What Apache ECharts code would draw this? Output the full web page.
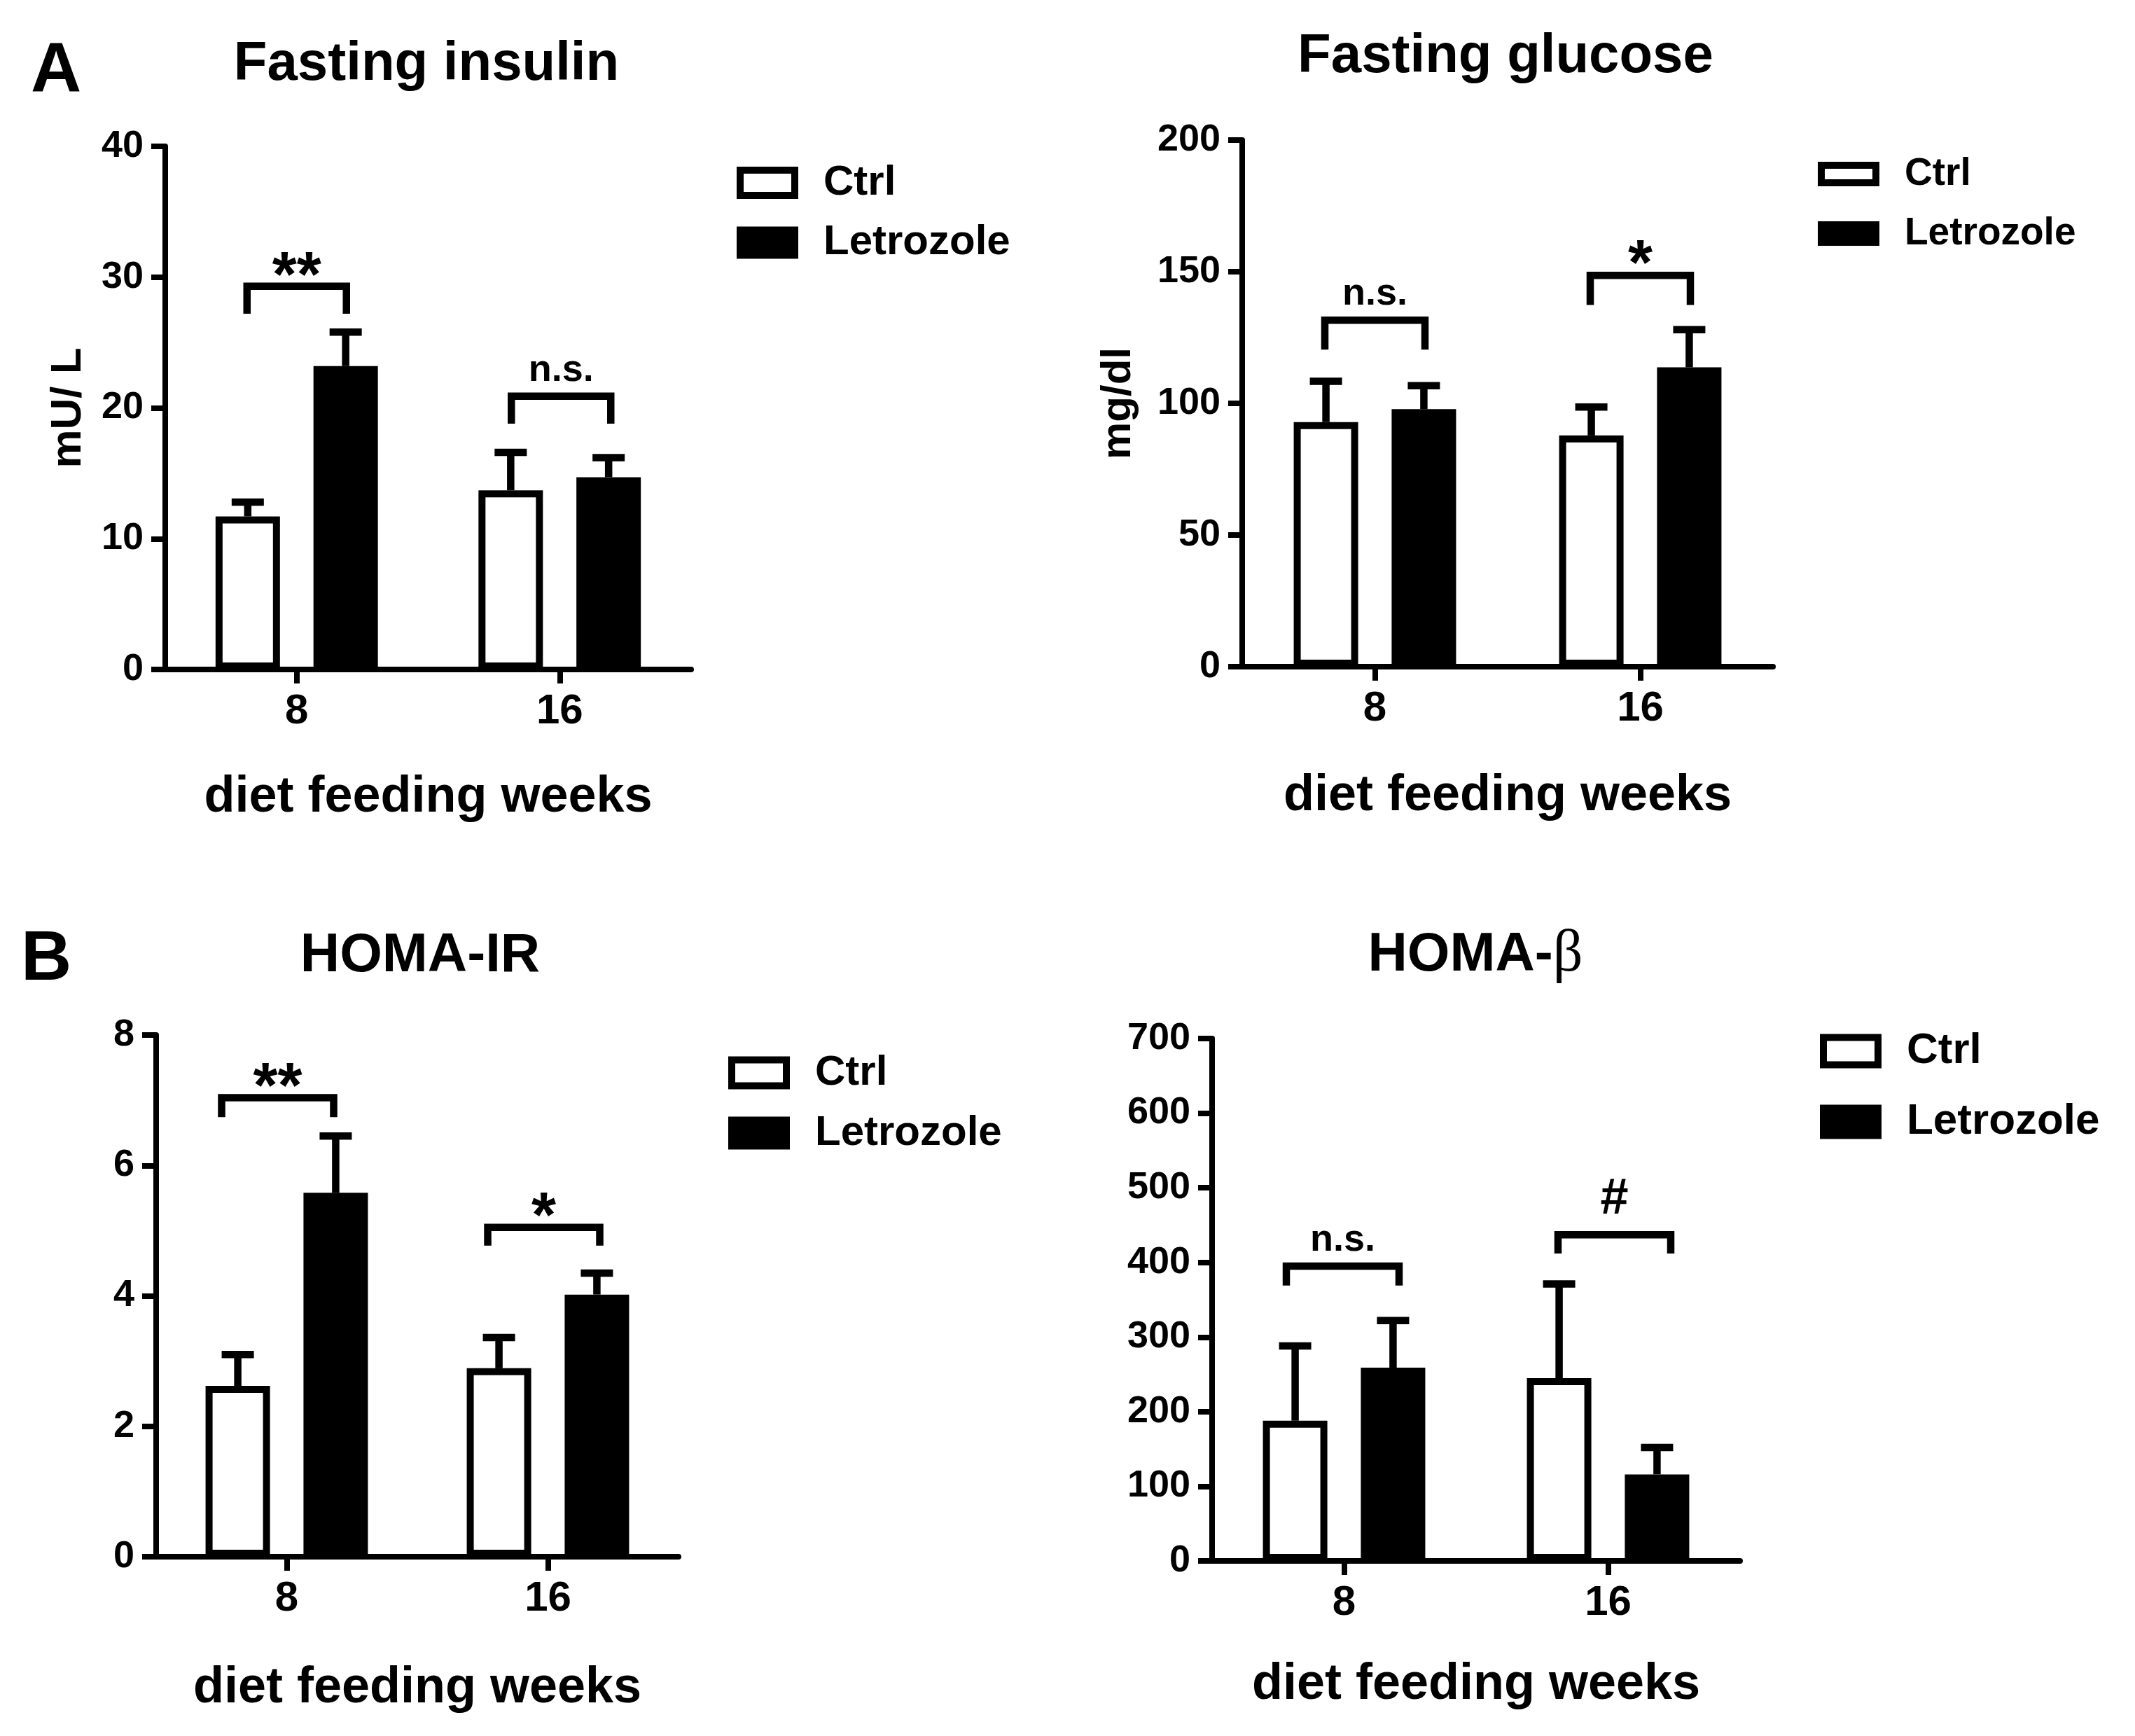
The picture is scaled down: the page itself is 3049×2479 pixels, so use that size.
<!DOCTYPE html>
<html>
<head>
<meta charset="utf-8">
<script src="https://cdn.jsdelivr.net/npm/echarts@6/dist/echarts.min.js"></script>
<style>
html,body{margin:0;padding:0;background:#ffffff;}
#chart{width:3049px;height:2479px;}
</style>
</head>
<body>
<div id="chart"></div>
<script>
// ---------------- data ----------------
const categories = ['8', '16'];
const groupNames = ['Ctrl', 'Letrozole'];
const xAxisTitle = 'diet feeding weeks';

// Fasting insulin (mU/ L)
const insulinCtrl = [11.7, 13.7];
const insulinCtrlErr = [1.1, 2.9];
const insulinLet = [23.2, 14.7];
const insulinLetErr = [2.6, 1.5];
const insulinBracketTop = [29.3, 20.9];
const insulinBracketLeg = [27.2, 18.8];
const insulinSig = ['**', 'n.s.'];
const insulinTicks = [0, 40, 10];

// Fasting glucose (mg/dl)
const glucoseCtrl = [92.9, 87.8];
const glucoseCtrlErr = [15.5, 10.8];
const glucoseLet = [97.8, 113.7];
const glucoseLetErr = [8.9, 14.3];
const glucoseBracketTop = [131.6, 148.6];
const glucoseBracketLeg = [120.4, 137.4];
const glucoseSig = ['n.s.', '*'];
const glucoseTicks = [0, 200, 50];

// HOMA-IR
const homaIrCtrl = [2.62, 2.89];
const homaIrCtrlErr = [0.48, 0.47];
const homaIrLet = [5.58, 4.02];
const homaIrLetErr = [0.87, 0.33];
const homaIrBracketTop = [7.04, 5.05];
const homaIrBracketLeg = [6.74, 4.77];
const homaIrSig = ['**', '*'];
const homaIrTicks = [0, 8, 2];

// HOMA-beta
const homaBCtrl = [188, 245];
const homaBCtrlErr = [100, 126];
const homaBLet = [259, 116];
const homaBLetErr = [63, 36];
const homaBBracketTop = [395, 437];
const homaBBracketLeg = [369, 412];
const homaBSig = ['n.s.', '#'];
const homaBTicks = [0, 700, 100];

// ---------------- style / layout ----------------
const FONT = '"Liberation Sans", Arial, Helvetica, sans-serif';
const BAR_W = 92;
const BAR_GAP = 0.52;
const HALF = BAR_W * (1 + BAR_GAP) / 2;
const BAR_LW = 10;
const LW = 10.5;
const AXIS_W = 8;
const CAP_W = 46;
const SIG_FONT = {'**': 90, '*': 90, 'n.s.': 54, '#': 72};
const SIG_DY = {'**': -11, '*': -12, 'n.s.': -37, '#': -50};

const panels = [
  {ctrl: insulinCtrl, ctrlErr: insulinCtrlErr, let: insulinLet, letErr: insulinLetErr,
   bTop: insulinBracketTop, bLeg: insulinBracketLeg, sig: insulinSig, ticks: insulinTicks, yName: 'mU/ L'},
  {ctrl: glucoseCtrl, ctrlErr: glucoseCtrlErr, let: glucoseLet, letErr: glucoseLetErr,
   bTop: glucoseBracketTop, bLeg: glucoseBracketLeg, sig: glucoseSig, ticks: glucoseTicks, yName: 'mg/dl'},
  {ctrl: homaIrCtrl, ctrlErr: homaIrCtrlErr, let: homaIrLet, letErr: homaIrLetErr,
   bTop: homaIrBracketTop, bLeg: homaIrBracketLeg, sig: homaIrSig, ticks: homaIrTicks, yName: ''},
  {ctrl: homaBCtrl, ctrlErr: homaBCtrlErr, let: homaBLet, letErr: homaBLetErr,
   bTop: homaBBracketTop, bLeg: homaBBracketLeg, sig: homaBSig, ticks: homaBTicks, yName: ''}
];

const layout = [
  {grid: {left: 236, top: 209, width: 751, height: 747},
   legend: {left: 1052, top: 231, itemHeight: 36, font: 60, gap: 25.5},
   xNameGap: 147, yNameGap: 107, yNameFont: 62, bracketHalf: 71, bracketShift: [0, 2]},
  {grid: {left: 1774, top: 200, width: 758, height: 752},
   legend: {left: 2596, top: 221, itemHeight: 25, font: 55, gap: 30},
   xNameGap: 149, yNameGap: 147, yNameFont: 60, bracketHalf: 71.5, bracketShift: [0, 0]},
  {grid: {left: 223, top: 1478, width: 746, height: 745},
   legend: {left: 1040, top: 1502, itemHeight: 37, font: 60, gap: 26},
   xNameGap: 152, yNameGap: 100, yNameFont: 60, bracketHalf: 80, bracketShift: [-13, -6]},
  {grid: {left: 1731, top: 1483, width: 754, height: 746},
   legend: {left: 2599, top: 1470, itemHeight: 39, font: 62, gap: 39},
   xNameGap: 141, yNameGap: 100, yNameFont: 60, bracketHalf: 80.5, bracketShift: [-2, 9]}
];

// ---------------- build option ----------------
function errRender(sign) {
  return function (params, api) {
    const cat = api.value(0), mean = api.value(1), err = api.value(2);
    const b = api.coord([cat, mean]);
    const t = api.coord([cat, mean + err]);
    const x = b[0] + sign * HALF;
    return {
      type: 'group',
      children: [
        {type: 'line', shape: {x1: x, y1: b[1], x2: x, y2: t[1]}, style: {stroke: '#000', lineWidth: LW}},
        {type: 'line', shape: {x1: x - CAP_W / 2, y1: t[1], x2: x + CAP_W / 2, y2: t[1]}, style: {stroke: '#000', lineWidth: LW}}
      ]
    };
  };
}

function bracketRender(p, lay) {
  return function (params, api) {
    const i = params.dataIndex;
    const cat = api.value(0), top = api.value(1), leg = api.value(2);
    const c = api.coord([cat, top]);
    const l = api.coord([cat, leg]);
    const xc = c[0] + lay.bracketShift[i];
    const x1 = xc - lay.bracketHalf, x2 = xc + lay.bracketHalf;
    const lab = p.sig[i];
    return {
      type: 'group',
      children: [
        {type: 'polyline', shape: {points: [[x1, l[1]], [x1, c[1]], [x2, c[1]], [x2, l[1]]]},
         style: {stroke: '#000', lineWidth: LW, fill: null, lineJoin: 'miter'}},
        {type: 'text', style: {text: lab, x: xc, y: c[1] + SIG_DY[lab], align: 'center', verticalAlign: 'middle',
          fontSize: SIG_FONT[lab], fontWeight: 'bold', fontFamily: FONT, fill: '#000'}}
      ]
    };
  };
}

const grids = [], xAxes = [], yAxes = [], series = [], legends = [];
panels.forEach(function (p, k) {
  const lay = layout[k];
  grids.push(Object.assign({containLabel: false, outerBoundsMode: 'none'}, lay.grid));
  xAxes.push({
    type: 'category', gridIndex: k, data: categories,
    axisLine: {show: true, lineStyle: {color: '#000', width: AXIS_W}},
    axisTick: {show: true, alignWithLabel: true, length: 20, lineStyle: {color: '#000', width: AXIS_W}},
    axisLabel: {show: true, color: '#000', fontSize: 60, fontWeight: 'bold', fontFamily: FONT, margin: 30},
    splitLine: {show: false},
    name: xAxisTitle, nameLocation: 'middle', nameGap: lay.xNameGap, nameMoveOverlap: false,
    nameTextStyle: {color: '#000', fontSize: 72, fontWeight: 'bold', fontFamily: FONT}
  });
  yAxes.push({
    type: 'value', gridIndex: k, min: p.ticks[0], max: p.ticks[1], interval: p.ticks[2],
    axisLine: {show: true, lineStyle: {color: '#000', width: AXIS_W}},
    axisTick: {show: true, length: 20, lineStyle: {color: '#000', width: AXIS_W}},
    axisLabel: {show: true, color: '#000', fontSize: 54, fontWeight: 'bold', fontFamily: FONT, margin: 31},
    splitLine: {show: false},
    name: p.yName, nameLocation: 'middle', nameGap: lay.yNameGap, nameMoveOverlap: false,
    nameTextStyle: {color: '#000', fontSize: lay.yNameFont, fontWeight: 'bold', fontFamily: FONT}
  });
  series.push({
    type: 'bar', name: groupNames[0], xAxisIndex: k, yAxisIndex: k,
    data: p.ctrl, barWidth: BAR_W, barGap: (BAR_GAP * 100) + '%',
    itemStyle: {color: '#ffffff', borderColor: '#000', borderWidth: BAR_LW},
    emphasis: {disabled: true}, animation: false, z: 2
  });
  series.push({
    type: 'bar', name: groupNames[1], xAxisIndex: k, yAxisIndex: k,
    data: p.let, barWidth: BAR_W, barGap: (BAR_GAP * 100) + '%',
    itemStyle: {color: '#000000', borderColor: '#000', borderWidth: BAR_LW},
    emphasis: {disabled: true}, animation: false, z: 2
  });
  series.push({
    type: 'custom', xAxisIndex: k, yAxisIndex: k, z: 3, animation: false, silent: true,
    data: p.ctrl.map(function (v, i) { return [i, v, p.ctrlErr[i]]; }),
    renderItem: errRender(-1)
  });
  series.push({
    type: 'custom', xAxisIndex: k, yAxisIndex: k, z: 3, animation: false, silent: true,
    data: p.let.map(function (v, i) { return [i, v, p.letErr[i]]; }),
    renderItem: errRender(1)
  });
  series.push({
    type: 'custom', xAxisIndex: k, yAxisIndex: k, z: 3, animation: false, silent: true,
    data: p.bTop.map(function (v, i) { return [i, v, p.bLeg[i]]; }),
    renderItem: bracketRender(p, lay)
  });
  legends.push({
    orient: 'vertical', left: lay.legend.left, top: lay.legend.top, padding: 0,
    data: groupNames, icon: 'rect', itemWidth: 78, itemHeight: lay.legend.itemHeight,
    itemGap: lay.legend.gap, selectedMode: false,
    itemStyle: {borderColor: '#000', borderWidth: BAR_LW},
    textStyle: {color: '#000', fontSize: lay.legend.font, fontWeight: 'bold', fontFamily: FONT,
      lineHeight: lay.legend.font, padding: [0, 0, 0, 36]}
  });
});

const titleStyle = {color: '#000', fontSize: 78, fontWeight: 'bold', fontFamily: FONT, lineHeight: 78};
const option = {
  backgroundColor: '#ffffff',
  animation: false,
  title: [
    {text: 'A', left: 44, top: 53, padding: 0, textStyle: {color: '#000', fontSize: 100, fontWeight: 'bold', fontFamily: FONT, lineHeight: 100}},
    {text: 'B', left: 30, top: 1321, padding: 0, textStyle: {color: '#000', fontSize: 100, fontWeight: 'bold', fontFamily: FONT, lineHeight: 100}},
    {text: 'Fasting insulin', left: 609, top: 53, padding: 0, textAlign: 'center', textStyle: titleStyle},
    {text: 'Fasting glucose', left: 2150, top: 42, padding: 0, textAlign: 'center', textStyle: titleStyle},
    {text: 'HOMA-IR', left: 600, top: 1326, padding: 0, textAlign: 'center', textStyle: titleStyle},
    {text: '{a|HOMA-}{b|\u03b2}', left: 2107, top: 1325, padding: 0, textAlign: 'center',
     textStyle: {rich: {
       a: {color: '#000', fontSize: 78, fontWeight: 'bold', fontFamily: FONT, lineHeight: 78},
       b: {color: '#000', fontSize: 84, fontWeight: 'normal', fontFamily: '"Liberation Serif", "DejaVu Serif", serif', lineHeight: 78}
     }}}
  ],
  grid: grids,
  xAxis: xAxes,
  yAxis: yAxes,
  legend: legends,
  series: series
};

const chart = echarts.init(document.getElementById('chart'), null, {renderer: 'canvas'});
chart.setOption(option);
</script>
</body>
</html>
